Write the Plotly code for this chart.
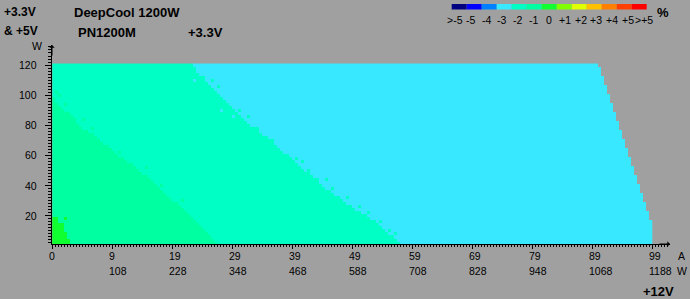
import numpy as np
import plotly.graph_objects as go

# ---------------- data ----------------
ROW_W = list(range(2, 122, 2))          # +3.3V & +5V load rows (W), 60 rows
# column (in +12V axis units) at which each colour band begins, per row
CYAN_FROM = [58, 57.5, 57, 56, 55.5, 55, 54.5, 54, 53, 52.5,
             51.5, 50.5, 50, 49, 48.5, 48, 47, 46.5, 45.5, 45,
             44.5, 44, 43.5, 43, 42, 41.5, 41, 40.5, 40, 39.5,
             38.5, 38, 37.5, 37, 36.5, 36, 35, 34.5, 34, 33,
             32.5, 32, 31.5, 31, 30.5, 30, 29.5, 29, 28.5, 28,
             27.5, 27, 26.5, 26, 25.5, 25, 24.5, 24, 24, 23.5]
AQUA_FROM = [27.5, 27, 26.5, 26, 25.5, 25, 24.5, 24, 23.5, 23,
             22.5, 22, 21.5, 21, 20, 19.5, 19, 18.5, 18, 17.5,
             17, 16.5, 16, 15, 14.5, 14, 13.5, 12.5, 12, 11,
             10.5, 10, 9.5, 8.5, 8, 7.5, 7, 6, 5, 4.5,
             4, 4, 3.5, 3, 2, 1.5, 1, 0.5, 0.5, 0,
             0, 0, 0, 0, 0, 0, 0, 0, 0, 0]
SPRING_FROM = [3, 3, 2.5, 2.5, 2, 2, 2, 1, 1] + [0] * 51
BAND_VALUES = [-3, -2, -1, 0]           # deviation % of the bands
MAX_TOTAL_W = 1216                       # combined load limit (staircase edge)
MAX_COL = 100
COL_STEP = 0.5

# isolated cells that break the band edges (column, row W, deviation %)
SPECKLE_U = [25, 26.5, 27.5, 31, 32.5, 34, 34, 36.5, 40.5, 41.5, 42.5, 44, 45.5, 46.5,
             49, 51, 52.5, 54.5, 56, 57,
             23.5, 28, 30, 33, 38,
             1, 0.5, 2, 5, 6.5, 11, 15.5, 18, 21.5,
             3, 8, 13, 2, 1.5]
SPECKLE_W = [112, 110, 106, 90, 86, 78, 76, 70, 58, 56, 50, 44, 44, 38,
             32, 26, 22, 16, 10, 8,
             110, 90, 86, 80, 66,
             100, 102, 94, 84, 78, 62, 52, 40, 30,
             88, 70, 56, 18, 12]
SPECKLE_VAL = [-2] * 20 + [-3] * 5 + [-1] * 9 + [-2] * 3 + [0] * 2

TICK_POS = [0, 10, 20, 30, 40, 50, 60, 70, 80, 90, 100]
TICK_A = ["0", "9", "19", "29", "39", "49", "59", "69", "79", "89", "99"]
TICK_W12 = ["", "108", "228", "348", "468", "588", "708", "828", "948", "1068", "1188"]
Y_TICKS = [20, 40, 60, 80, 100, 120]

LEGEND_LABELS = [">-5", "-5", "-4", "-3", "-2", "-1", "0", "+1", "+2", "+3", "+4", "+5", ">+5"]
LEGEND_VALUES = [-6, -5, -4, -3, -2, -1, 0, 1, 2, 3, 4, 5, 6]
LEGEND_COLORS = ["#000080", "#0000FF", "#0080FF", "#38E8FF", "#00FFC4", "#00FFA0",
                 "#10FF30", "#80FF00", "#E0FF00", "#FFC000", "#FF8000", "#FF4000", "#FF0000"]

# ---------------- build grid ----------------
x_edges = np.arange(0, MAX_COL + COL_STEP / 2, COL_STEP)
y_edges = np.arange(ROW_W[0] - 1, ROW_W[-1] + 2, 2)
z = np.full((len(ROW_W), len(x_edges) - 1), np.nan)
for r, w in enumerate(ROW_W):
    right_lim = min(MAX_COL, np.floor((MAX_TOTAL_W - w) / 12 / COL_STEP) * COL_STEP)
    for c in range(len(x_edges) - 1):
        left = x_edges[c]
        if left + COL_STEP > right_lim + 1e-9:
            continue
        if left >= CYAN_FROM[r]:
            z[r, c] = BAND_VALUES[0]
        elif left >= AQUA_FROM[r]:
            z[r, c] = BAND_VALUES[1]
        elif left >= SPRING_FROM[r]:
            z[r, c] = BAND_VALUES[2]
        else:
            z[r, c] = BAND_VALUES[3]
for u, w, v in zip(SPECKLE_U, SPECKLE_W, SPECKLE_VAL):
    r = ROW_W.index(w)
    c = int(round(u / COL_STEP))
    if not np.isnan(z[r, c]):
        z[r, c] = v

vmin, vmax = LEGEND_VALUES[0], LEGEND_VALUES[-1]
span = vmax - vmin
cscale = []
for v, col in zip(LEGEND_VALUES, LEGEND_COLORS):
    lo = max(0.0, (v - vmin - 0.5) / span)
    hi = min(1.0, (v - vmin + 0.5) / span)
    cscale += [[lo, col], [hi, col]]

# ---------------- layout geometry (pixels) ----------------
W_FIG, H_FIG = 690, 299
L, R, T, B = 52, 670, 45, 244
PW, PH = R - L, B - T
def px(xp):
    return (xp - L) / PW
def py(yp):
    return (B - yp) / PH

BG = "#A0A0A0"
FONT = "Liberation Sans, Arial, sans-serif"

fig = go.Figure()
fig.add_trace(go.Heatmap(x=x_edges, y=y_edges, z=z, zmin=vmin, zmax=vmax,
                         colorscale=cscale, showscale=False, hoverinfo="skip"))

ann = []
def text(x, y, s, size=10, bold=False, xanchor="left", xref="paper", yref="paper", xshift=0):
    ann.append(dict(x=x, y=y, xref=xref, yref=yref, text=f"<b>{s}</b>" if bold else s,
                    showarrow=False, xanchor=xanchor, yanchor="middle", xshift=xshift,
                    font=dict(family=FONT, size=size, color="black")))

# titles
text(px(2.5), py(11.5), "+3.3V", 12, True)
text(px(2.5), py(31), "&amp; +5V", 12, True)
text(px(71.5), py(12.5), "DeepCool 1200W", 13, True)
text(px(75.5), py(32.5), "PN1200M", 13, True)
text(px(186), py(32.5), "+3.3V", 13, True)
text(px(36.5), py(46), "W", 10.5, False, xanchor="center")
# x tick labels
for pos, a, w in zip(TICK_POS, TICK_A, TICK_W12):
    text(pos, py(256), a, 10.5, xref="x", xshift=-5)
    if w:
        text(pos, py(271), w, 10.5, xref="x", xshift=-5)
text(px(675.5), py(256), "A", 10.5)
text(px(675), py(271), "W", 10.5)
text(px(641), py(291.5), "+12V", 13, True)
# y tick labels
for v in Y_TICKS:
    text(px(38.5), v, str(v), 10.5, xanchor="right", yref="y")

# legend bar
shapes = []
seg_w = 15
x0 = 451.7
for i, (lab, col) in enumerate(zip(LEGEND_LABELS, LEGEND_COLORS)):
    shapes.append(dict(type="rect", xref="paper", yref="paper",
                       x0=px(x0 + i * seg_w), x1=px(x0 + (i + 1) * seg_w),
                       y0=py(9.5), y1=py(4), fillcolor=col, line=dict(width=0)))
    text(px(454.7 + 15.75 * i), py(19.5), lab, 10.5, xanchor="center")
text(px(663), py(13), "%", 13, True, xanchor="center")

# axis arrows
ann.append(dict(x=1, y=0, xref="paper", yref="paper", ax=-12, ay=0, text="",
                showarrow=True, arrowhead=1, arrowsize=0.9, arrowwidth=1, arrowcolor="black"))
ann.append(dict(x=0, y=1, xref="paper", yref="paper", ax=0, ay=12, text="",
                showarrow=True, arrowhead=1, arrowsize=0.9, arrowwidth=1, arrowcolor="black"))

fig.update_layout(
    width=W_FIG, height=H_FIG, margin=dict(l=L, r=W_FIG - R, t=T, b=H_FIG - B),
    paper_bgcolor=BG, plot_bgcolor=BG, showlegend=False,
    annotations=ann, shapes=shapes,
    xaxis=dict(range=[-0.05, 102.95], showgrid=False, zeroline=False, showline=True,
               linecolor="black", linewidth=1, ticks="outside", tickmode="array",
               tickvals=TICK_POS, ticklen=4, tickcolor="black", showticklabels=False,
               minor=dict(tickmode="linear", tick0=0, dtick=0.5, ticklen=2,
                          ticks="outside", tickcolor="black", showgrid=False)),
    yaxis=dict(range=[1.26, 133.3], showgrid=False, zeroline=False, showline=True,
               linecolor="black", linewidth=1, ticks="outside", tickmode="array",
               tickvals=Y_TICKS, ticklen=6, tickcolor="black", showticklabels=False,
               minor=dict(tickmode="linear", tick0=0, dtick=2, ticklen=3,
                          ticks="outside", tickcolor="black", showgrid=False)),
)
fig.write_html("out.html")
